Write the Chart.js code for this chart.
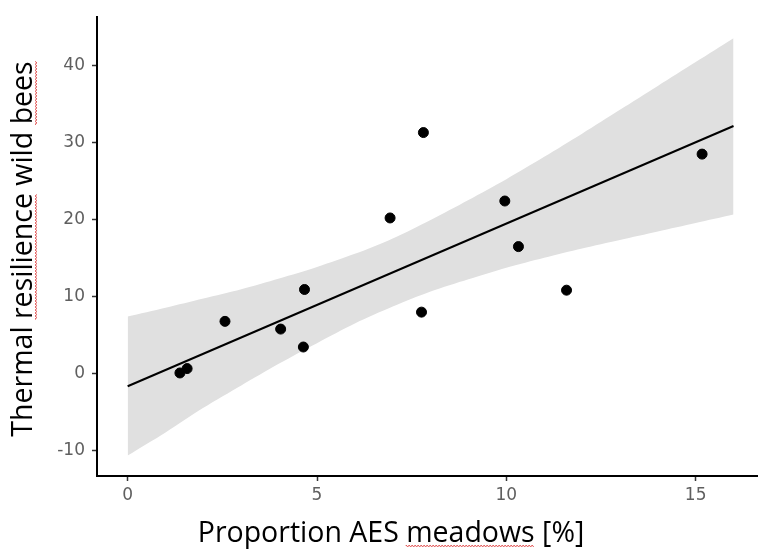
<!DOCTYPE html>
<html>
<head>
<meta charset="utf-8">
<script src="https://cdn.jsdelivr.net/npm/chart.js@4.4.1/dist/chart.umd.min.js"></script>
<style>
  html, body { margin: 0; padding: 0; background: #fff; }
  #wrap { width: 758px; height: 549px; }
</style>
</head>
<body>
<div id="wrap"><canvas id="chart" width="758" height="549"></canvas></div>
<script>
// observed points
const xValues = [1.38, 1.57, 2.57, 4.04, 4.64, 4.67, 6.93, 7.76, 7.81, 9.96, 10.32, 11.59, 15.17];
const yValues = [0.13, 0.70, 6.83, 5.83, 3.50, 10.97, 20.26, 8.03, 31.35, 22.46, 16.54, 10.88, 28.55];

// regression line (ends)
const fitX = [0, 16];
const fitY = [-1.59, 32.2];

// confidence band
const bandX = [0, 1, 2, 3, 4, 5, 6, 7, 8, 9, 10, 11, 12, 13, 14, 15, 16];
const bandUpper = [7.45, 8.6, 9.8, 11.0, 12.4, 13.9, 15.6, 17.6, 20.0, 22.6, 25.3, 28.2, 31.2, 34.3, 37.4, 40.5, 43.6];
const bandLower = [-10.6, -7.6, -4.4, -1.5, 1.35, 4.0, 6.55, 8.75, 10.7, 12.3, 13.8, 15.1, 16.3, 17.4, 18.5, 19.6, 20.7];

const xTicks = [0, 5, 10, 15];
const yTicks = [-10, 0, 10, 20, 30, 40];

const xTitle = "Proportion AES meadows [%]";
const yTitle = "Thermal resilience wild bees";

const pairs = (xs, ys) => xs.map((x, i) => ({ x: x, y: ys[i] }));

// red spell-check squiggle
function squiggle(ctx, x0, x1, y) {
  ctx.beginPath();
  let up = true;
  ctx.moveTo(x0, y);
  for (let x = x0; x <= x1; x += 1.5) {
    ctx.lineTo(x, y + (up ? -1 : 1));
    up = !up;
  }
  ctx.stroke();
}

// axis titles drawn by hand so they can sit where the original has them
const axisTitles = {
  id: "axisTitles",
  afterDraw: (chart) => {
    const ctx = chart.ctx;
    ctx.save();
    ctx.font = '28.5px "Open Sans"';
    ctx.fillStyle = "#000";
    ctx.textBaseline = "alphabetic";
    ctx.textAlign = "left";
    ctx.strokeStyle = "#e25a5a";
    ctx.lineWidth = 1;

    // x title
    let w = ctx.measureText(xTitle).width;
    let sx = 391 - w / 2;
    ctx.fillText(xTitle, sx, 542);
    let a = ctx.measureText("Proportion AES ").width;
    let b = ctx.measureText("meadows").width;
    squiggle(ctx, sx + a, sx + a + b, 546);

    // y title
    ctx.translate(32, 249);
    ctx.rotate(-Math.PI / 2);
    w = ctx.measureText(yTitle).width;
    sx = -w / 2;
    ctx.fillText(yTitle, sx, 0);
    a = ctx.measureText("Thermal ").width;
    b = ctx.measureText("resilience").width;
    squiggle(ctx, sx + a, sx + a + b, 4);
    a = ctx.measureText("Thermal resilience wild ").width;
    b = ctx.measureText("bees").width;
    squiggle(ctx, sx + a, sx + a + b, 4);
    ctx.restore();
  }
};

const tickFont = { family: "DejaVu Sans", size: 17 };

new Chart(document.getElementById("chart"), {
  type: "scatter",
  data: {
    datasets: [
      {
        label: "points",
        data: pairs(xValues, yValues),
        backgroundColor: "#000",
        borderColor: "#000",
        pointRadius: 5,
        order: 0
      },
      {
        label: "fit",
        data: pairs(fitX, fitY),
        showLine: true,
        borderColor: "#000",
        borderWidth: 2,
        pointRadius: 0,
        order: 1
      },
      {
        label: "upper",
        data: pairs(bandX, bandUpper),
        showLine: true,
        borderWidth: 0,
        borderColor: "rgba(0,0,0,0)",
        backgroundColor: "#e0e0e0",
        pointRadius: 0,
        tension: 0.3,
        fill: "+1",
        order: 2
      },
      {
        label: "lower",
        data: pairs(bandX, bandLower),
        showLine: true,
        borderWidth: 0,
        borderColor: "rgba(0,0,0,0)",
        pointRadius: 0,
        tension: 0.3,
        fill: false,
        order: 3
      }
    ]
  },
  options: {
    responsive: false,
    animation: false,
    layout: { autoPadding: false, padding: { top: 16, right: 1, left: 0, bottom: 0 } },
    plugins: {
      legend: { display: false },
      tooltip: { enabled: false }
    },
    scales: {
      x: {
        type: "linear",
        min: -0.81,
        max: 16.62,
        afterBuildTicks: (s) => { s.ticks = xTicks.map(v => ({ value: v })); },
        afterFit: (s) => { s.height = 73; },
        grid: { drawOnChartArea: false, tickLength: 5, tickColor: "#333", tickWidth: 1.5 },
        border: { display: true, color: "#000", width: 2 },
        ticks: { font: tickFont, color: "#5f5f5f", padding: 4, maxRotation: 0 }
      },
      y: {
        min: -13.25,
        max: 46.33,
        afterBuildTicks: (s) => { s.ticks = yTicks.map(v => ({ value: v })); },
        afterFit: (s) => { s.width = 97; },
        grid: { drawOnChartArea: false, tickLength: 5, tickColor: "#333", tickWidth: 1.5 },
        border: { display: true, color: "#000", width: 2 },
        ticks: { font: tickFont, color: "#5f5f5f", padding: 7 }
      }
    }
  },
  plugins: [axisTitles]
});
</script>
</body>
</html>
